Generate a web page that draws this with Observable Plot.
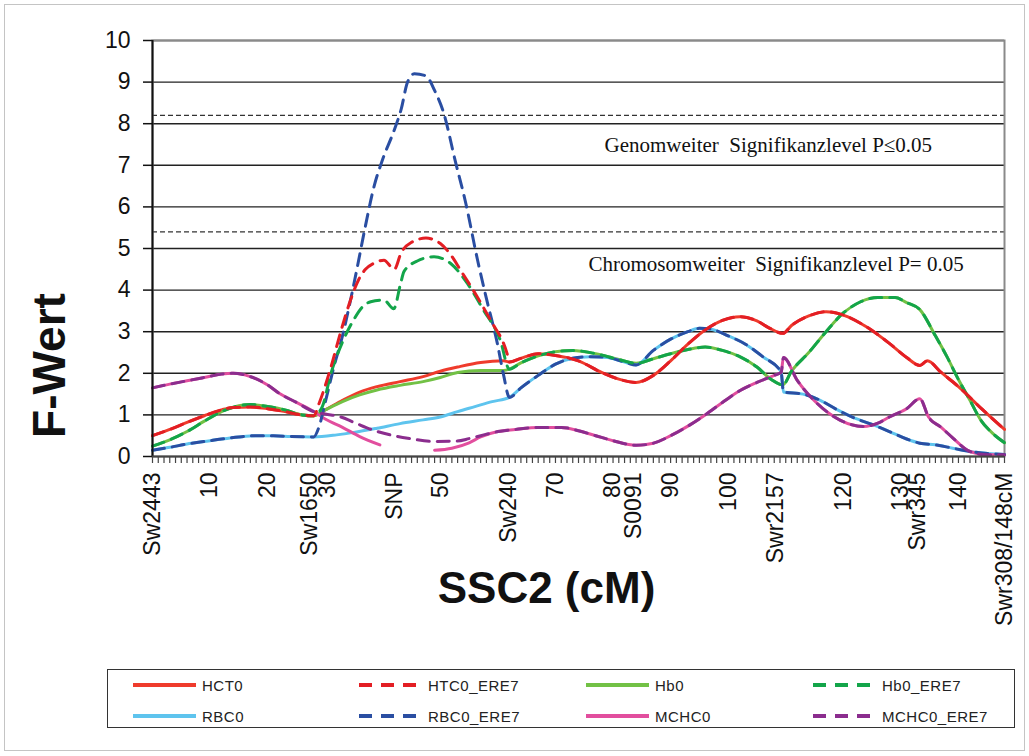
<!DOCTYPE html>
<html><head><meta charset="utf-8">
<script src="https://cdn.jsdelivr.net/npm/d3@7"></script>
<script src="https://cdn.jsdelivr.net/npm/@observablehq/plot@0.6"></script>
<style>
body{margin:0;background:#fff;}
#wrap{position:relative;width:1029px;height:756px;overflow:hidden;font-family:"Liberation Sans",Arial,sans-serif;background:#fff;}
#outer{position:absolute;left:4px;top:4px;width:1019px;height:745px;border:1px solid #c4c4c4;}
#chart{position:absolute;left:0;top:0;}
#legend{position:absolute;left:107px;top:669px;width:906px;height:57px;border:1.5px solid #333;}
.item{position:absolute;display:flex;align-items:center;height:20px;font-size:15px;color:#222;letter-spacing:0.5px;}
.item svg{margin-right:6px;}
</style></head>
<body>
<div id="wrap"><div id="outer"></div><div id="chart"></div><div id="legend"></div></div>
<script>
// ---- data: [cM, F-Wert] ----
const HCT0 = [[0,0.5],[3,0.65],[6,0.82],[9,0.98],[12,1.12],[14,1.18],[17,1.19],[20,1.15],[23,1.08],[26,1.0],[28,0.98],[30,1.12],[33,1.35],[36,1.55],[39,1.68],[43,1.8],[47,1.92],[50,2.05],[53,2.15],[57,2.26],[61,2.3],[62,2.27],[64,2.36],[67,2.47],[70,2.43],[74,2.3],[78,2.02],[81,1.86],[84,1.78],[87,1.95],[90,2.3],[93,2.7],[96,3.04],[99,3.27],[102,3.36],[105,3.26],[107,3.1],[109.5,2.96],[111,3.15],[114,3.38],[117,3.48],[120,3.4],[124,3.12],[128,2.72],[131,2.38],[133.3,2.19],[134.6,2.3],[137,2.02],[140,1.68],[144,1.15],[148,0.65]];
const HTC0_ERE7 = [[0,0.5],[3,0.65],[6,0.82],[9,0.98],[12,1.12],[14,1.18],[17,1.19],[20,1.15],[23,1.08],[26,1.0],[28,0.98],[29,1.3],[31,2.15],[32.7,3.0],[34.4,3.76],[35.8,4.25],[37,4.5],[38.4,4.64],[40.2,4.72],[42,4.5],[43.2,4.9],[45,5.15],[47.5,5.25],[50,5.12],[51.8,4.85],[53.5,4.48],[56.4,3.84],[58.7,3.28],[61.6,2.47],[62,2.27],[64,2.36],[67,2.47],[70,2.43],[74,2.3],[78,2.02],[81,1.86],[84,1.78],[87,1.95],[90,2.3],[93,2.7],[96,3.04],[99,3.27],[102,3.36],[105,3.26],[107,3.1],[109.5,2.96],[111,3.15],[114,3.38],[117,3.48],[120,3.4],[124,3.12],[128,2.72],[131,2.38],[133.3,2.19],[134.6,2.3],[137,2.02],[140,1.68],[144,1.15],[148,0.65]];
const Hb0 = [[0,0.25],[3,0.4],[6,0.6],[9,0.85],[12,1.08],[15,1.22],[17,1.25],[20,1.2],[23,1.12],[26,1.0],[28,0.98],[30,1.12],[33,1.32],[36,1.48],[39,1.6],[43,1.71],[47,1.8],[50,1.9],[53,2.02],[57,2.07],[61,2.07],[62,2.1],[64,2.25],[67,2.42],[70,2.52],[73,2.55],[77,2.47],[81,2.33],[84,2.24],[87,2.35],[90,2.47],[93,2.57],[96,2.63],[99,2.55],[102,2.4],[105,2.15],[107.5,1.85],[109.5,1.72],[111,2.05],[114,2.5],[117,3.0],[120,3.45],[123,3.72],[126,3.82],[129,3.82],[131,3.7],[133.3,3.53],[136,2.9],[138,2.4],[140,1.85],[142,1.35],[144,0.85],[146,0.55],[148,0.33]];
const Hb0_ERE7 = [[0,0.25],[3,0.4],[6,0.6],[9,0.85],[12,1.08],[15,1.22],[17,1.25],[20,1.2],[23,1.12],[26,1.0],[28,0.98],[29.5,1.2],[31,2.0],[33,2.75],[35,3.3],[36.5,3.6],[37.9,3.72],[40.2,3.76],[41.9,3.55],[43.1,4.16],[43.7,4.45],[46,4.7],[48.9,4.8],[51.8,4.64],[54.7,4.16],[57.5,3.52],[60.4,2.8],[62,2.1],[64,2.25],[67,2.42],[70,2.52],[73,2.55],[77,2.47],[81,2.33],[84,2.24],[87,2.35],[90,2.47],[93,2.57],[96,2.63],[99,2.55],[102,2.4],[105,2.15],[107.5,1.85],[109.5,1.72],[111,2.05],[114,2.5],[117,3.0],[120,3.45],[123,3.72],[126,3.82],[129,3.82],[131,3.7],[133.3,3.53],[136,2.9],[138,2.4],[140,1.85],[142,1.35],[144,0.85],[146,0.55],[148,0.33]];
const RBC0 = [[0,0.15],[3,0.22],[6,0.3],[9,0.36],[12,0.42],[15,0.47],[18,0.5],[21,0.5],[24,0.48],[28,0.47],[32,0.52],[35,0.58],[39,0.68],[43,0.79],[47,0.88],[50,0.95],[53,1.08],[56,1.2],[59,1.32],[62,1.42],[64,1.65],[67,1.95],[70,2.22],[73,2.36],[76,2.4],[79,2.38],[82,2.27],[84,2.2],[87,2.55],[90,2.82],[93,3.0],[95,3.08],[97,3.06],[100,2.9],[103,2.7],[106,2.4],[109.2,2.03],[109.6,1.55],[113,1.5],[116,1.35],[119,1.12],[122,0.92],[125,0.77],[128,0.6],[131,0.42],[133.3,0.32],[136,0.28],[139,0.2],[143,0.1],[148,0.05]];
const RBC0_ERE7 = [[0,0.15],[3,0.22],[6,0.3],[9,0.36],[12,0.42],[15,0.47],[18,0.5],[21,0.5],[24,0.48],[28,0.47],[28.9,0.7],[30,1.3],[31.5,2.15],[33,2.9],[34.4,3.76],[35.5,4.5],[37,5.55],[38.5,6.5],[40,7.15],[42,7.85],[43.2,8.35],[44.3,9.0],[45.5,9.2],[47.5,9.15],[49,8.8],[50.6,8.25],[52.6,7.1],[54.4,6.1],[56.5,4.7],[58,3.8],[59.9,2.72],[61,1.95],[62,1.42],[64,1.65],[67,1.95],[70,2.22],[73,2.36],[76,2.4],[79,2.38],[82,2.27],[84,2.2],[87,2.55],[90,2.82],[93,3.0],[95,3.08],[97,3.06],[100,2.9],[103,2.7],[106,2.4],[109.2,2.03],[109.6,1.55],[113,1.5],[116,1.35],[119,1.12],[122,0.92],[125,0.77],[128,0.6],[131,0.42],[133.3,0.32],[136,0.28],[139,0.2],[143,0.1],[148,0.05]];
const MCHC0 = [[0,1.65],[3,1.74],[6,1.82],[9,1.9],[12,1.98],[14,2.0],[17,1.92],[20,1.72],[22,1.52],[25,1.3],[28,1.08],[30,0.9],[33,0.7],[36,0.48],[39.5,0.28],[44,null],[49,0.15],[52,0.2],[55,0.33],[57,0.47],[60,0.6],[63,0.65],[67,0.7],[71,0.7],[74,0.62],[77,0.5],[80,0.38],[84,0.27],[87,0.32],[90,0.5],[93,0.73],[96,1.0],[99,1.3],[102,1.58],[105,1.78],[108,1.95],[109.2,2.02],[109.6,2.38],[112,1.83],[115.5,1.27],[119.5,0.87],[123.6,0.72],[126,0.8],[128,0.95],[131,1.15],[133.3,1.39],[134.8,0.95],[137,0.7],[139,0.45],[142,0.12],[145,0.04],[148,0.04]];
const MCHC0_ERE7 = [[0,1.65],[3,1.74],[6,1.82],[9,1.9],[12,1.98],[14,2.0],[17,1.92],[20,1.72],[22,1.52],[25,1.3],[28,1.08],[30,1.02],[32.7,0.95],[35,0.82],[38.4,0.63],[41.9,0.5],[44.8,0.43],[48.9,0.36],[52.9,0.37],[55,0.43],[57,0.5],[60,0.6],[63,0.65],[67,0.7],[71,0.7],[74,0.62],[77,0.5],[80,0.38],[84,0.27],[87,0.32],[90,0.5],[93,0.73],[96,1.0],[99,1.3],[102,1.58],[105,1.78],[108,1.95],[109.2,2.02],[109.6,2.38],[112,1.83],[115.5,1.27],[119.5,0.87],[123.6,0.72],[126,0.8],[128,0.95],[131,1.15],[133.3,1.39],[134.8,0.95],[137,0.7],[139,0.45],[142,0.12],[145,0.04],[148,0.04]];

const seriesNames = ["HCT0","HTC0_ERE7","Hb0","Hb0_ERE7","RBC0","RBC0_ERE7","MCHC0","MCHC0_ERE7"];
const seriesData = [HCT0,HTC0_ERE7,Hb0,Hb0_ERE7,RBC0,RBC0_ERE7,MCHC0,MCHC0_ERE7];
const seriesColors = ["#ef3b2c","#e31e24","#72c145","#13a54a","#5ec4ee","#2a4ea2","#e24e9e","#8b2d8e"];
const seriesDashed = [false,true,false,true,false,true,false,true];

const yTicks = [0,1,2,3,4,5,6,7,8,9,10];
const xTickPos = [0,10,20,27.3,30.5,42,50,61.8,70,80,83.5,90,100,108.2,120,130,132.9,140,148];
const xTickLabels = ["Sw2443","10","20","Sw1650","30","SNP","50","Sw240","70","80","S0091","90","100","Swr2157","120","130","Swr345","140","Swr308/148cM"];
const minorTicks = d3.range(0, 149, 1);
const thresholds = [8.2, 5.4];
const thresholdLabels = ["Genomweiter  Signifikanzlevel P\u22640.05", "Chromosomweiter  Signifikanzlevel P= 0.05"];

const labelMap = new Map(xTickPos.map((p,i)=>[p, xTickLabels[i]]));
const order = [0,2,4,6,5,7,3,1];
const lineMarks = order.map(i => Plot.line(seriesData[i], {
  x: d => d[0], y: d => d[1], stroke: seriesColors[i], strokeWidth: 3,
  strokeDasharray: seriesDashed[i] ? "12,8" : null, curve: "monotone-x"
}));

const chart = Plot.plot({
  width: 1029, height: 660,
  marginLeft: 152, marginRight: 25, marginTop: 40, marginBottom: 204,
  x: {domain: [0, 148]},
  y: {domain: [0, 10]},
  style: {fontFamily: "'Liberation Sans', Arial, sans-serif", background: "transparent", color: "#111"},
  marks: [
    Plot.ruleY(yTicks.slice(1), {stroke: "#222", strokeWidth: 1.4}),
    Plot.ruleY(thresholds, {stroke: "#333", strokeWidth: 1.3, strokeDasharray: "5,3"}),
    Plot.frame({stroke: "#8a8a8a", strokeWidth: 2}),
    Plot.text([thresholdLabels[0]], {frameAnchor: "top-left", dx: 452, dy: 111, textAnchor: "start", lineAnchor: "bottom", fontFamily: "'Liberation Serif', 'Times New Roman', serif", fontSize: 21, fill: "#111"}),
    Plot.text([thresholdLabels[1]], {frameAnchor: "top-left", dx: 436, dy: 230, textAnchor: "start", lineAnchor: "bottom", fontFamily: "'Liberation Serif', 'Times New Roman', serif", fontSize: 21, fill: "#111"}),
    ...lineMarks,
    Plot.ruleX([0], {stroke: "#111", strokeWidth: 2}),
    Plot.ruleY([0], {stroke: "#444", strokeWidth: 2}),
    Plot.axisY(yTicks, {tickSize: 9, tickPadding: 13, fontSize: 23, label: null, stroke: "#111", strokeWidth: 1.5}),
    Plot.axisX(minorTicks, {tickSize: 7, tickFormat: () => "", label: null, stroke: "#444", strokeWidth: 1.2}),
    Plot.axisX(xTickPos, {tickSize: 0, tickPadding: 16, tickRotate: -90, fontSize: 23, tickFormat: d => labelMap.get(d), label: null, fill: "#111"}),
    Plot.text(["F-Wert"], {frameAnchor: "left", dx: -102, dy: 117, rotate: -90, textAnchor: "middle", fontSize: 46, fontWeight: "bold", fill: "#111"}),
    Plot.text(["SSC2 (cM)"], {frameAnchor: "bottom", dx: -32, dy: 146, fontSize: 44, fontWeight: "bold", fill: "#111"})
  ]
});
document.getElementById("chart").appendChild(chart);

// legend: 4 columns x 2 rows, in series order
const legend = document.getElementById("legend");
const colX = [25, 251, 478, 705];
const rowY = [5, 36];
seriesNames.forEach((name, i) => {
  const div = document.createElement("div");
  div.className = "item";
  div.style.left = colX[i % 4] + "px";
  div.style.top = rowY[Math.floor(i / 4)] + "px";
  const dash = seriesDashed[i] ? ' stroke-dasharray="13,9"' : '';
  div.innerHTML = `<svg width="63" height="6"><line x1="0" y1="3" x2="63" y2="3" stroke="${seriesColors[i]}" stroke-width="4"${dash}/></svg><span>${name}</span>`;
  legend.appendChild(div);
});
</script>
</body></html>
